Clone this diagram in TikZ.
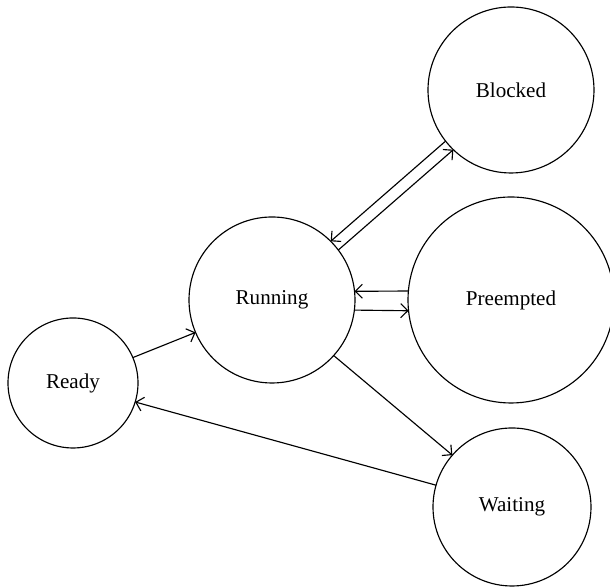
\documentclass[tikz,border=0pt]{standalone}
\usepackage{fontspec}
\setmainfont{Liberation Serif}
\usetikzlibrary{arrows.meta}

\begin{document}
\begin{tikzpicture}[line width=0.65pt, font=\fontsize{12}{14}\selectfont,
    >={Straight Barb[length=4pt,width=8pt]},
    state/.style={draw, circle, inner sep=0pt, outer sep=0pt}]
    \useasboundingbox (0,0) rectangle (12.2,11.76);

    % States
    \node[state, minimum size=2.6cm]  (ready)     at (1.46,4.10)  {Ready};
    \node[state, minimum size=3.32cm] (running)   at (5.44,5.76)  {Running};
    \node[state, minimum size=3.32cm] (blocked)   at (10.22,9.96) {Blocked};
    \node[state, minimum size=4.12cm] (preempted) at (10.22,5.76) {Preempted};
    \node[state, minimum size=3.16cm] (waiting)   at (10.24,1.62) {Waiting};

    % Transitions
    \draw[->] (ready.23) -- (running.203);
    \draw[->] (running.37) -- (blocked.226);
    \draw[->] (blocked.218) -- (running.45);
    \draw[->] (preempted.175) -- (running.6);
    \draw[->] (running.-7) -- (preempted.186);
    \draw[->] (running.-42) -- (waiting.139);
    \draw[->] (waiting.164) -- (ready.-17);
\end{tikzpicture}
\end{document}
